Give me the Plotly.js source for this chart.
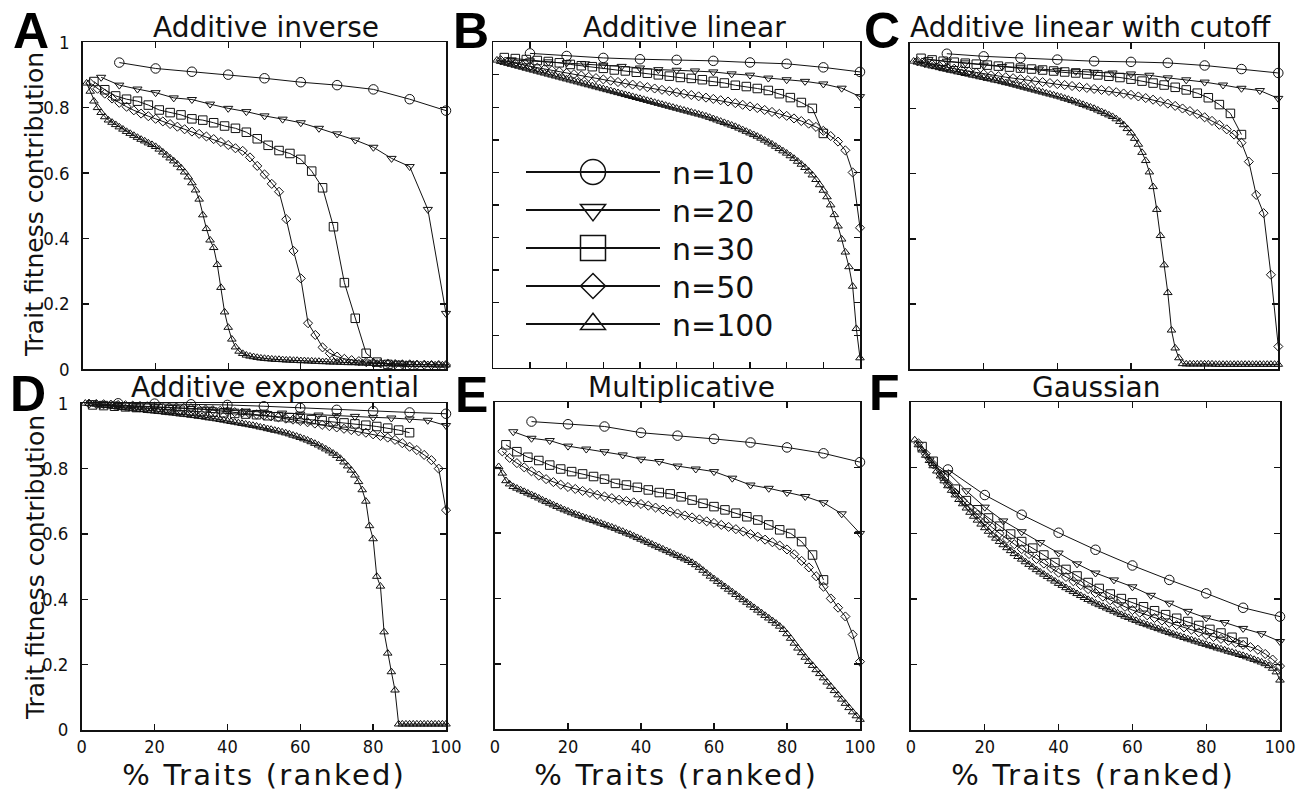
<!DOCTYPE html>
<html><head><meta charset="utf-8">
<script src="https://cdn.plot.ly/plotly-3.0.1.min.js"></script>
<style>html,body{margin:0;padding:0;background:#fff;} #chart{width:1305px;height:794px;}</style>
</head><body><div id="chart"></div>
<script>
// ---------- data ----------
const seriesLabels = ['n=10', 'n=20', 'n=30', 'n=50', 'n=100'];
// spacing (in % of ranked traits) between successive points of each series
const seriesStep = [10, 5, 3, 2, 1];

const panelLetters = ['A', 'B', 'C', 'D', 'E', 'F'];
const panelTitles = ['Additive inverse', 'Additive linear', 'Additive linear with cutoff',
                     'Additive exponential', 'Multiplicative', 'Gaussian'];
const xTickVals = [0, 20, 40, 60, 80, 100];
const yTickVals = [0, 0.2, 0.4, 0.6, 0.8, 1];
const yTickText = ['0', '0.2', '0.4', '0.6', '0.8', '1'];
const xAxisTitle = '% Traits (ranked)';
const yAxisTitle = 'Trait fitness contribution';

// A: Additive inverse
const A_n10 = [0.938,0.920,0.910,0.901,0.890,0.878,0.869,0.856,0.826,0.791];
const A_n20 = [0.893,0.869,0.857,0.846,0.830,0.825,0.811,0.798,0.788,0.775,0.765,0.754,0.737,0.720,0.701,0.679,0.645,0.620,0.489,0.171];
const A_n30 = [0.880,0.855,0.836,0.826,0.820,0.808,0.793,0.785,0.778,0.766,0.762,0.754,0.744,0.737,0.725,0.705,0.685,0.669,0.660,0.642,0.606,0.555,0.436,0.265,0.156,0.049,0.022,0.015,0.012,0.010];
const A_n50 = [0.875,0.858,0.843,0.828,0.815,0.803,0.792,0.782,0.774,0.766,0.758,0.750,0.742,0.734,0.727,0.720,0.712,0.704,0.695,0.686,0.676,0.668,0.648,0.622,0.596,0.567,0.543,0.459,0.362,0.278,0.141,0.105,0.067,0.049,0.039,0.032,0.028,0.025,0.022,0.020,0.018,0.017,0.016,0.015,0.015,0.014,0.014,0.013,0.013,0.013];
const A_n100 = [0.875,0.850,0.820,0.800,0.785,0.772,0.762,0.755,0.748,0.741,
  0.734,0.727,0.721,0.715,0.709,0.703,0.698,0.692,0.687,0.681,
  0.673,0.664,0.655,0.646,0.637,0.627,0.616,0.603,0.588,0.570,
  0.548,0.520,0.472,0.430,0.395,0.372,0.320,0.250,0.175,0.128,
  0.092,0.068,0.055,0.048,0.043,0.040,0.038,0.036,0.034,0.033,
  0.032,0.031,0.030,0.030,0.029,0.028,0.028,0.027,0.027,0.026,
  0.026,0.025,0.025,0.024,0.024,0.023,0.023,0.022,0.022,0.022,
  0.021,0.021,0.020,0.020,0.020,0.019,0.019,0.019,0.018,0.018,
  0.018,0.017,0.017,0.017,0.016,0.016,0.016,0.016,0.015,0.015,
  0.015,0.015,0.014,0.014,0.014,0.014,0.013,0.013,0.013,0.013];

// B: Additive linear
const B_n10 = [0.966,0.958,0.952,0.948,0.946,0.943,0.938,0.934,0.923,0.909];
const B_n20 = [0.946,0.943,0.940,0.937,0.934,0.930,0.926,0.921,0.916,0.914,0.912,0.909,0.903,0.899,0.890,0.885,0.880,0.872,0.859,0.833];
const B_n30 = [0.953,0.950,0.947,0.944,0.941,0.937,0.932,0.928,0.925,0.920,0.915,0.912,0.908,0.905,0.900,0.896,0.892,0.889,0.885,0.880,0.875,0.868,0.864,0.858,0.852,0.842,0.830,0.815,0.797,0.720];
const B_n50 = [0.945,0.940,0.935,0.930,0.926,0.922,0.918,0.914,0.910,0.906,0.902,0.898,0.894,0.890,0.886,0.882,0.878,0.874,0.870,0.866,0.862,0.858,0.854,0.850,0.846,0.842,0.838,0.834,0.830,0.826,0.822,0.818,0.813,0.808,0.803,0.798,0.792,0.786,0.780,0.774,0.766,0.758,0.750,0.740,0.728,0.712,0.695,0.668,0.600,0.430];
const B_n100 = [0.945,0.941,0.938,0.935,0.932,0.929,0.926,0.923,0.920,0.917,
  0.914,0.911,0.908,0.905,0.902,0.899,0.896,0.893,0.890,0.887,
  0.884,0.881,0.878,0.875,0.872,0.869,0.866,0.863,0.860,0.857,
  0.854,0.851,0.848,0.845,0.842,0.839,0.836,0.833,0.830,0.827,
  0.824,0.821,0.818,0.815,0.812,0.809,0.806,0.803,0.800,0.797,
  0.794,0.791,0.788,0.785,0.782,0.779,0.776,0.773,0.769,0.765,
  0.761,0.757,0.753,0.749,0.745,0.741,0.736,0.731,0.726,0.721,
  0.716,0.711,0.705,0.699,0.693,0.687,0.680,0.673,0.666,0.659,
  0.651,0.643,0.634,0.625,0.615,0.604,0.592,0.578,0.562,0.545,
  0.525,0.500,0.470,0.435,0.395,0.355,0.310,0.250,0.120,0.030];

// C: Additive linear with cutoff
const C_n10 = [0.968,0.960,0.955,0.950,0.945,0.943,0.940,0.932,0.921,0.909];
const C_n20 = [0.950,0.945,0.940,0.933,0.929,0.925,0.921,0.917,0.914,0.911,0.909,0.906,0.902,0.894,0.888,0.881,0.872,0.862,0.855,0.831];
const C_n30 = [0.954,0.949,0.945,0.942,0.939,0.936,0.933,0.930,0.927,0.924,0.921,0.918,0.915,0.912,0.909,0.906,0.903,0.899,0.895,0.890,0.884,0.878,0.872,0.865,0.857,0.847,0.833,0.812,0.785,0.720];
const C_n50 = [0.945,0.940,0.935,0.930,0.926,0.922,0.918,0.914,0.910,0.906,
  0.902,0.899,0.896,0.893,0.890,0.887,0.884,0.881,0.878,0.875,
  0.872,0.869,0.866,0.863,0.860,0.857,0.854,0.850,0.846,0.842,
  0.837,0.832,0.827,0.821,0.815,0.808,0.800,0.792,0.783,0.773,
  0.762,0.750,0.736,0.720,0.695,0.637,0.535,0.479,0.290,0.070];
const C_n100 = [0.945,0.942,0.939,0.936,0.933,0.930,0.928,0.925,0.922,0.920,
  0.917,0.915,0.912,0.910,0.907,0.905,0.902,0.900,0.897,0.895,
  0.892,0.890,0.887,0.885,0.882,0.879,0.877,0.874,0.871,0.868,
  0.865,0.862,0.859,0.856,0.853,0.850,0.847,0.844,0.841,0.838,
  0.835,0.831,0.828,0.824,0.820,0.816,0.812,0.808,0.804,0.800,
  0.795,0.790,0.785,0.780,0.775,0.768,0.760,0.750,0.738,0.725,
  0.708,0.690,0.665,0.640,0.605,0.560,0.490,0.410,0.320,0.235,
  0.120,0.065,0.035,0.017,0.016,0.016,0.016,0.016,0.016,0.016,
  0.016,0.016,0.015,0.015,0.015,0.015,0.015,0.015,0.015,0.015,
  0.015,0.015,0.015,0.015,0.015,0.015,0.015,0.015,0.015,0.015];

// D: Additive exponential
const D_n10 = [1.000,0.999,0.997,0.995,0.991,0.986,0.980,0.976,0.972,0.968];
const D_n20 = [0.995,0.993,0.991,0.989,0.987,0.985,0.982,0.979,0.976,0.973,0.970,0.967,0.964,0.962,0.960,0.957,0.955,0.952,0.948,0.932];
const D_n30 = [0.995,0.993,0.991,0.989,0.987,0.985,0.983,0.981,0.979,0.977,0.975,0.973,0.971,0.969,0.967,0.965,0.962,0.959,0.956,0.953,0.950,0.947,0.944,0.940,0.937,0.933,0.929,0.924,0.918,0.910];
const D_n50 = [0.999,0.998,0.997,0.996,0.995,0.994,0.993,0.992,0.991,0.990,
  0.989,0.988,0.987,0.986,0.985,0.983,0.981,0.979,0.977,0.975,
  0.973,0.971,0.969,0.966,0.963,0.960,0.957,0.953,0.950,0.946,
  0.942,0.938,0.934,0.930,0.926,0.922,0.918,0.914,0.910,0.905,
  0.900,0.895,0.888,0.878,0.867,0.857,0.842,0.826,0.800,0.673];
const D_n100 = [1.000,0.999,0.998,0.997,0.995,0.994,0.993,0.991,0.990,0.988,
  0.987,0.986,0.985,0.983,0.982,0.981,0.980,0.979,0.977,0.976,
  0.975,0.974,0.972,0.971,0.970,0.969,0.967,0.966,0.965,0.963,
  0.962,0.960,0.959,0.957,0.955,0.954,0.952,0.950,0.948,0.946,
  0.944,0.942,0.940,0.938,0.936,0.934,0.932,0.930,0.927,0.925,
  0.922,0.920,0.917,0.915,0.912,0.909,0.906,0.902,0.899,0.895,
  0.891,0.887,0.882,0.877,0.872,0.866,0.860,0.854,0.847,0.840,
  0.831,0.820,0.808,0.795,0.780,0.760,0.735,0.700,0.625,0.585,
  0.470,0.440,0.300,0.235,0.178,0.122,0.018,0.018,0.018,0.018,
  0.018,0.018,0.018,0.018,0.018,0.018,0.018,0.018,0.018,0.018];

// E: Multiplicative
const E_n10 = [0.941,0.933,0.926,0.907,0.898,0.888,0.877,0.862,0.844,0.817];
const E_n20 = [0.910,0.890,0.883,0.866,0.857,0.849,0.839,0.826,0.819,0.805,0.796,0.788,0.768,0.747,0.737,0.724,0.712,0.693,0.659,0.599];
const E_n30 = [0.870,0.849,0.832,0.822,0.808,0.796,0.788,0.781,0.773,0.765,0.752,0.747,0.740,0.732,0.724,0.720,0.711,0.701,0.691,0.681,0.671,0.661,0.650,0.640,0.625,0.610,0.599,0.574,0.533,0.457];
const E_n50 = [0.850,0.830,0.814,0.801,0.789,0.776,0.765,0.756,0.748,0.741,
  0.735,0.729,0.723,0.717,0.712,0.707,0.702,0.698,0.694,0.689,
  0.684,0.678,0.672,0.666,0.660,0.654,0.648,0.642,0.636,0.631,
  0.625,0.619,0.612,0.605,0.597,0.589,0.580,0.572,0.562,0.550,
  0.535,0.515,0.495,0.468,0.436,0.400,0.372,0.345,0.290,0.207];
const E_n100 = [0.803,0.783,0.760,0.750,0.742,0.737,0.732,0.727,0.722,0.717,
  0.712,0.707,0.701,0.696,0.691,0.686,0.681,0.676,0.671,0.667,
  0.662,0.658,0.654,0.650,0.646,0.642,0.638,0.634,0.630,0.626,
  0.622,0.618,0.614,0.609,0.605,0.600,0.596,0.591,0.586,0.581,
  0.576,0.571,0.566,0.561,0.556,0.551,0.546,0.541,0.536,0.531,
  0.526,0.521,0.516,0.510,0.503,0.495,0.486,0.477,0.468,0.460,
  0.452,0.444,0.436,0.428,0.420,0.412,0.404,0.396,0.388,0.380,
  0.372,0.364,0.356,0.348,0.340,0.332,0.324,0.315,0.305,0.292,
  0.278,0.263,0.248,0.234,0.220,0.207,0.195,0.182,0.170,0.157,
  0.144,0.131,0.118,0.105,0.092,0.079,0.066,0.053,0.041,0.030];

// F: Gaussian
const F_n10 = [0.795,0.717,0.657,0.602,0.550,0.502,0.458,0.417,0.373,0.346];
const F_n20 = [0.824,0.785,0.730,0.680,0.638,0.605,0.572,0.540,0.507,0.479,0.458,0.437,0.411,0.387,0.362,0.342,0.328,0.310,0.294,0.270];
const F_n30 = [0.865,0.820,0.775,0.735,0.700,0.672,0.647,0.622,0.598,0.575,0.555,0.534,0.511,0.490,0.470,0.450,0.432,0.415,0.401,0.388,0.376,0.364,0.352,0.341,0.331,0.319,0.307,0.296,0.283,0.268];
const F_n50 = [0.875,0.843,0.811,0.781,0.751,0.724,0.700,0.678,0.657,0.637,
  0.618,0.600,0.583,0.567,0.552,0.537,0.522,0.508,0.494,0.480,
  0.467,0.454,0.442,0.430,0.418,0.407,0.396,0.386,0.376,0.366,
  0.358,0.350,0.342,0.334,0.327,0.320,0.313,0.306,0.298,0.290,
  0.284,0.278,0.272,0.266,0.260,0.253,0.245,0.232,0.215,0.195];
const F_n100 = [0.885,0.870,0.854,0.838,0.822,0.806,0.790,0.775,0.760,0.745,
  0.731,0.717,0.703,0.690,0.677,0.664,0.652,0.640,0.628,0.617,
  0.606,0.595,0.585,0.575,0.565,0.556,0.547,0.538,0.529,0.521,
  0.513,0.505,0.497,0.489,0.482,0.475,0.468,0.461,0.454,0.447,
  0.441,0.434,0.428,0.422,0.416,0.410,0.404,0.398,0.393,0.387,
  0.382,0.377,0.372,0.367,0.362,0.357,0.352,0.347,0.343,0.338,
  0.334,0.329,0.325,0.321,0.317,0.313,0.309,0.305,0.301,0.297,
  0.293,0.289,0.286,0.282,0.278,0.275,0.271,0.268,0.264,0.261,
  0.257,0.254,0.250,0.247,0.244,0.240,0.237,0.234,0.230,0.227,
  0.223,0.219,0.215,0.211,0.207,0.202,0.196,0.188,0.177,0.152];

const panelSeries = [
  [A_n10, A_n20, A_n30, A_n50, A_n100],
  [B_n10, B_n20, B_n30, B_n50, B_n100],
  [C_n10, C_n20, C_n30, C_n50, C_n100],
  [D_n10, D_n20, D_n30, D_n50, D_n100],
  [E_n10, E_n20, E_n30, E_n50, E_n100],
  [F_n10, F_n20, F_n30, F_n50, F_n100]
];

// ---------- layout / style ----------
const W = 1305, H = 794;
// plot boxes in pixels [left, top, right, bottom]
const boxes = [
  [83, 42.3, 446, 369.3],
  [493.3, 42.3, 860, 367.7],
  [910, 43.3, 1278.3, 369.3],
  [81.7, 403.3, 446, 730],
  [495, 402.3, 860, 729.3],
  [911, 402.3, 1280, 730]
];
const xDtick = [20, 10, 20, 20, 20, 20];
const yDtick = [0.2, 0.1, 0.2, 0.2, 0.2, 0.2];
const showXLabels = [false, false, false, true, true, true];
const showYLabels = [true, false, false, true, false, false];
const symbols = ['circle-open', 'triangle-down-open', 'square-open', 'diamond-open', 'triangle-up-open'];
const msizes = [9.5, 8, 8.5, 7, 7.5];
const legendMarkerWidth = [9.5, 9.2, 8.5, 9.1, 8.7];
const INK = '#111';

const px2x = v => v / W;
const px2y = v => 1 - v / H;

const data = [];
panelSeries.forEach((series, p) => {
  const sfx = p === 0 ? '' : String(p + 1);
  series.forEach((vals, s) => {
    const step = seriesStep[s];
    data.push({
      type: 'scatter', mode: 'lines+markers',
      x: vals.map((_, i) => (i + 1) * step),
      y: vals,
      xaxis: 'x' + sfx, yaxis: 'y' + sfx,
      name: seriesLabels[s],
      showlegend: p === 1,
      cliponaxis: false,
      line: {color: INK, width: 1},
      marker: {symbol: symbols[s], size: msizes[s], color: INK, line: {color: INK, width: 1}}
    });
  });
});

const layout = {
  width: W, height: H,
  margin: {l: 0, r: 0, t: 0, b: 0},
  paper_bgcolor: '#fff', plot_bgcolor: '#fff',
  showlegend: true,
  legend: {
    x: px2x(521), y: px2y(146), xanchor: 'left', yanchor: 'top',
    bgcolor: 'rgba(0,0,0,0)', borderwidth: 0,
    font: {family: 'DejaVu Sans', size: 30, color: INK},
    itemwidth: 141, tracegroupgap: 0
  },
  annotations: []
};

boxes.forEach((b, p) => {
  const sfx = p === 0 ? '' : String(p + 1);
  const common = {
    showline: true, linecolor: INK, linewidth: 1.6, mirror: 'ticks',
    ticks: 'inside', ticklen: 6, tickwidth: 1.3, tickcolor: INK,
    showgrid: false, zeroline: false, fixedrange: true,
    tickfont: {family: 'Liberation Sans Narrow, DejaVu Sans Condensed, sans-serif', size: 18, color: INK},
    ticklabelstandoff: 0
  };
  layout['xaxis' + sfx] = Object.assign({}, common, {
    domain: [px2x(b[0]), px2x(b[2])], anchor: 'y' + sfx,
    range: [0, 100], tick0: 0, dtick: xDtick[p],
    showticklabels: showXLabels[p],
    tickmode: showXLabels[p] ? 'array' : 'linear',
    tickvals: showXLabels[p] ? xTickVals : undefined
  });
  layout['yaxis' + sfx] = Object.assign({}, common, {
    domain: [px2y(b[3]), px2y(b[1])], anchor: 'x' + sfx,
    range: [0, 1], tick0: 0, dtick: yDtick[p],
    showticklabels: showYLabels[p],
    tickmode: showYLabels[p] ? 'array' : 'linear',
    tickvals: showYLabels[p] ? yTickVals : undefined,
    ticktext: showYLabels[p] ? yTickText : undefined,
    tickfont: {family: 'Liberation Sans Narrow, DejaVu Sans Condensed, sans-serif', size: 18.5, color: INK},
    ticklabelstandoff: 8
  });
});

// panel titles and letters
const titlePos = [[266, 28], [684, 28], [1090, 28], [275, 387], [681, 387], [1096, 387]];
const letterPos = [[31, 31], [471, 31], [882, 31], [27.5, 394], [471.5, 395], [885, 393]];
panelTitles.forEach((t, p) => {
  layout.annotations.push({
    text: t, xref: 'paper', yref: 'paper',
    x: px2x(titlePos[p][0]), y: px2y(titlePos[p][1]),
    xanchor: 'center', yanchor: 'middle', showarrow: false,
    font: {family: 'DejaVu Sans', size: 28, color: INK}
  });
  layout.annotations.push({
    text: '<b>' + panelLetters[p] + '</b>', xref: 'paper', yref: 'paper',
    x: px2x(letterPos[p][0]), y: px2y(letterPos[p][1]),
    xanchor: 'center', yanchor: 'middle', showarrow: false,
    font: {family: 'Liberation Sans, Arial, sans-serif', size: 50, color: '#000'}
  });
});
// axis titles
[[35, 205], [35, 568]].forEach(pos => {
  layout.annotations.push({
    text: yAxisTitle, xref: 'paper', yref: 'paper',
    x: px2x(pos[0]), y: px2y(pos[1]), textangle: -90,
    xanchor: 'center', yanchor: 'middle', showarrow: false,
    font: {family: 'DejaVu Sans', size: 25, color: INK}
  });
});
[264, 676, 1093].forEach(cx => {
  layout.annotations.push({
    text: xAxisTitle, xref: 'paper', yref: 'paper',
    x: px2x(cx), y: 0,
    xanchor: 'center', yanchor: 'bottom', showarrow: false,
    font: {family: 'DejaVu Sans', size: 29, color: INK}
  });
});

Plotly.newPlot('chart', data, layout, {displayModeBar: false, staticPlot: true}).then(gd => {
  // widen the legend sample lines, enlarge legend markers and set row spacing as in the figure
  const items = gd.querySelectorAll('.legend .traces');
  const rowGap = 38;
  let y0 = null;
  items.forEach((tr, k) => {
    const m = /translate\(\s*([-\d.]+)[ ,]+([-\d.]+)\s*\)/.exec(tr.getAttribute('transform') || '');
    if (m) {
      const tx = parseFloat(m[1]);
      if (y0 === null) y0 = parseFloat(m[2]);
      tr.setAttribute('transform', 'translate(' + tx + ',' + (y0 + rowGap * k) + ')');
    }
    const ln = tr.querySelector('.legendlines path');
    if (ln) { ln.setAttribute('d', 'M5,0h134'); ln.style.strokeWidth = '1.8px'; }
    const pt = tr.querySelector('.legendpoints path');
    if (pt) {
      const sc = 25 / legendMarkerWidth[k % 5];
      pt.setAttribute('transform', 'translate(72,0) scale(' + sc.toFixed(3) + ')');
      pt.style.strokeWidth = (1.5 / sc).toFixed(3) + 'px';
      pt.style.fill = 'none';
    }
  });
  // the figure's axis titles are set a little wider than the font's natural spacing
  gd.querySelectorAll('.annotation-text').forEach(t => {
    if (t.textContent === xAxisTitle) t.style.letterSpacing = '2.2px';
  });
});
</script></body></html>
